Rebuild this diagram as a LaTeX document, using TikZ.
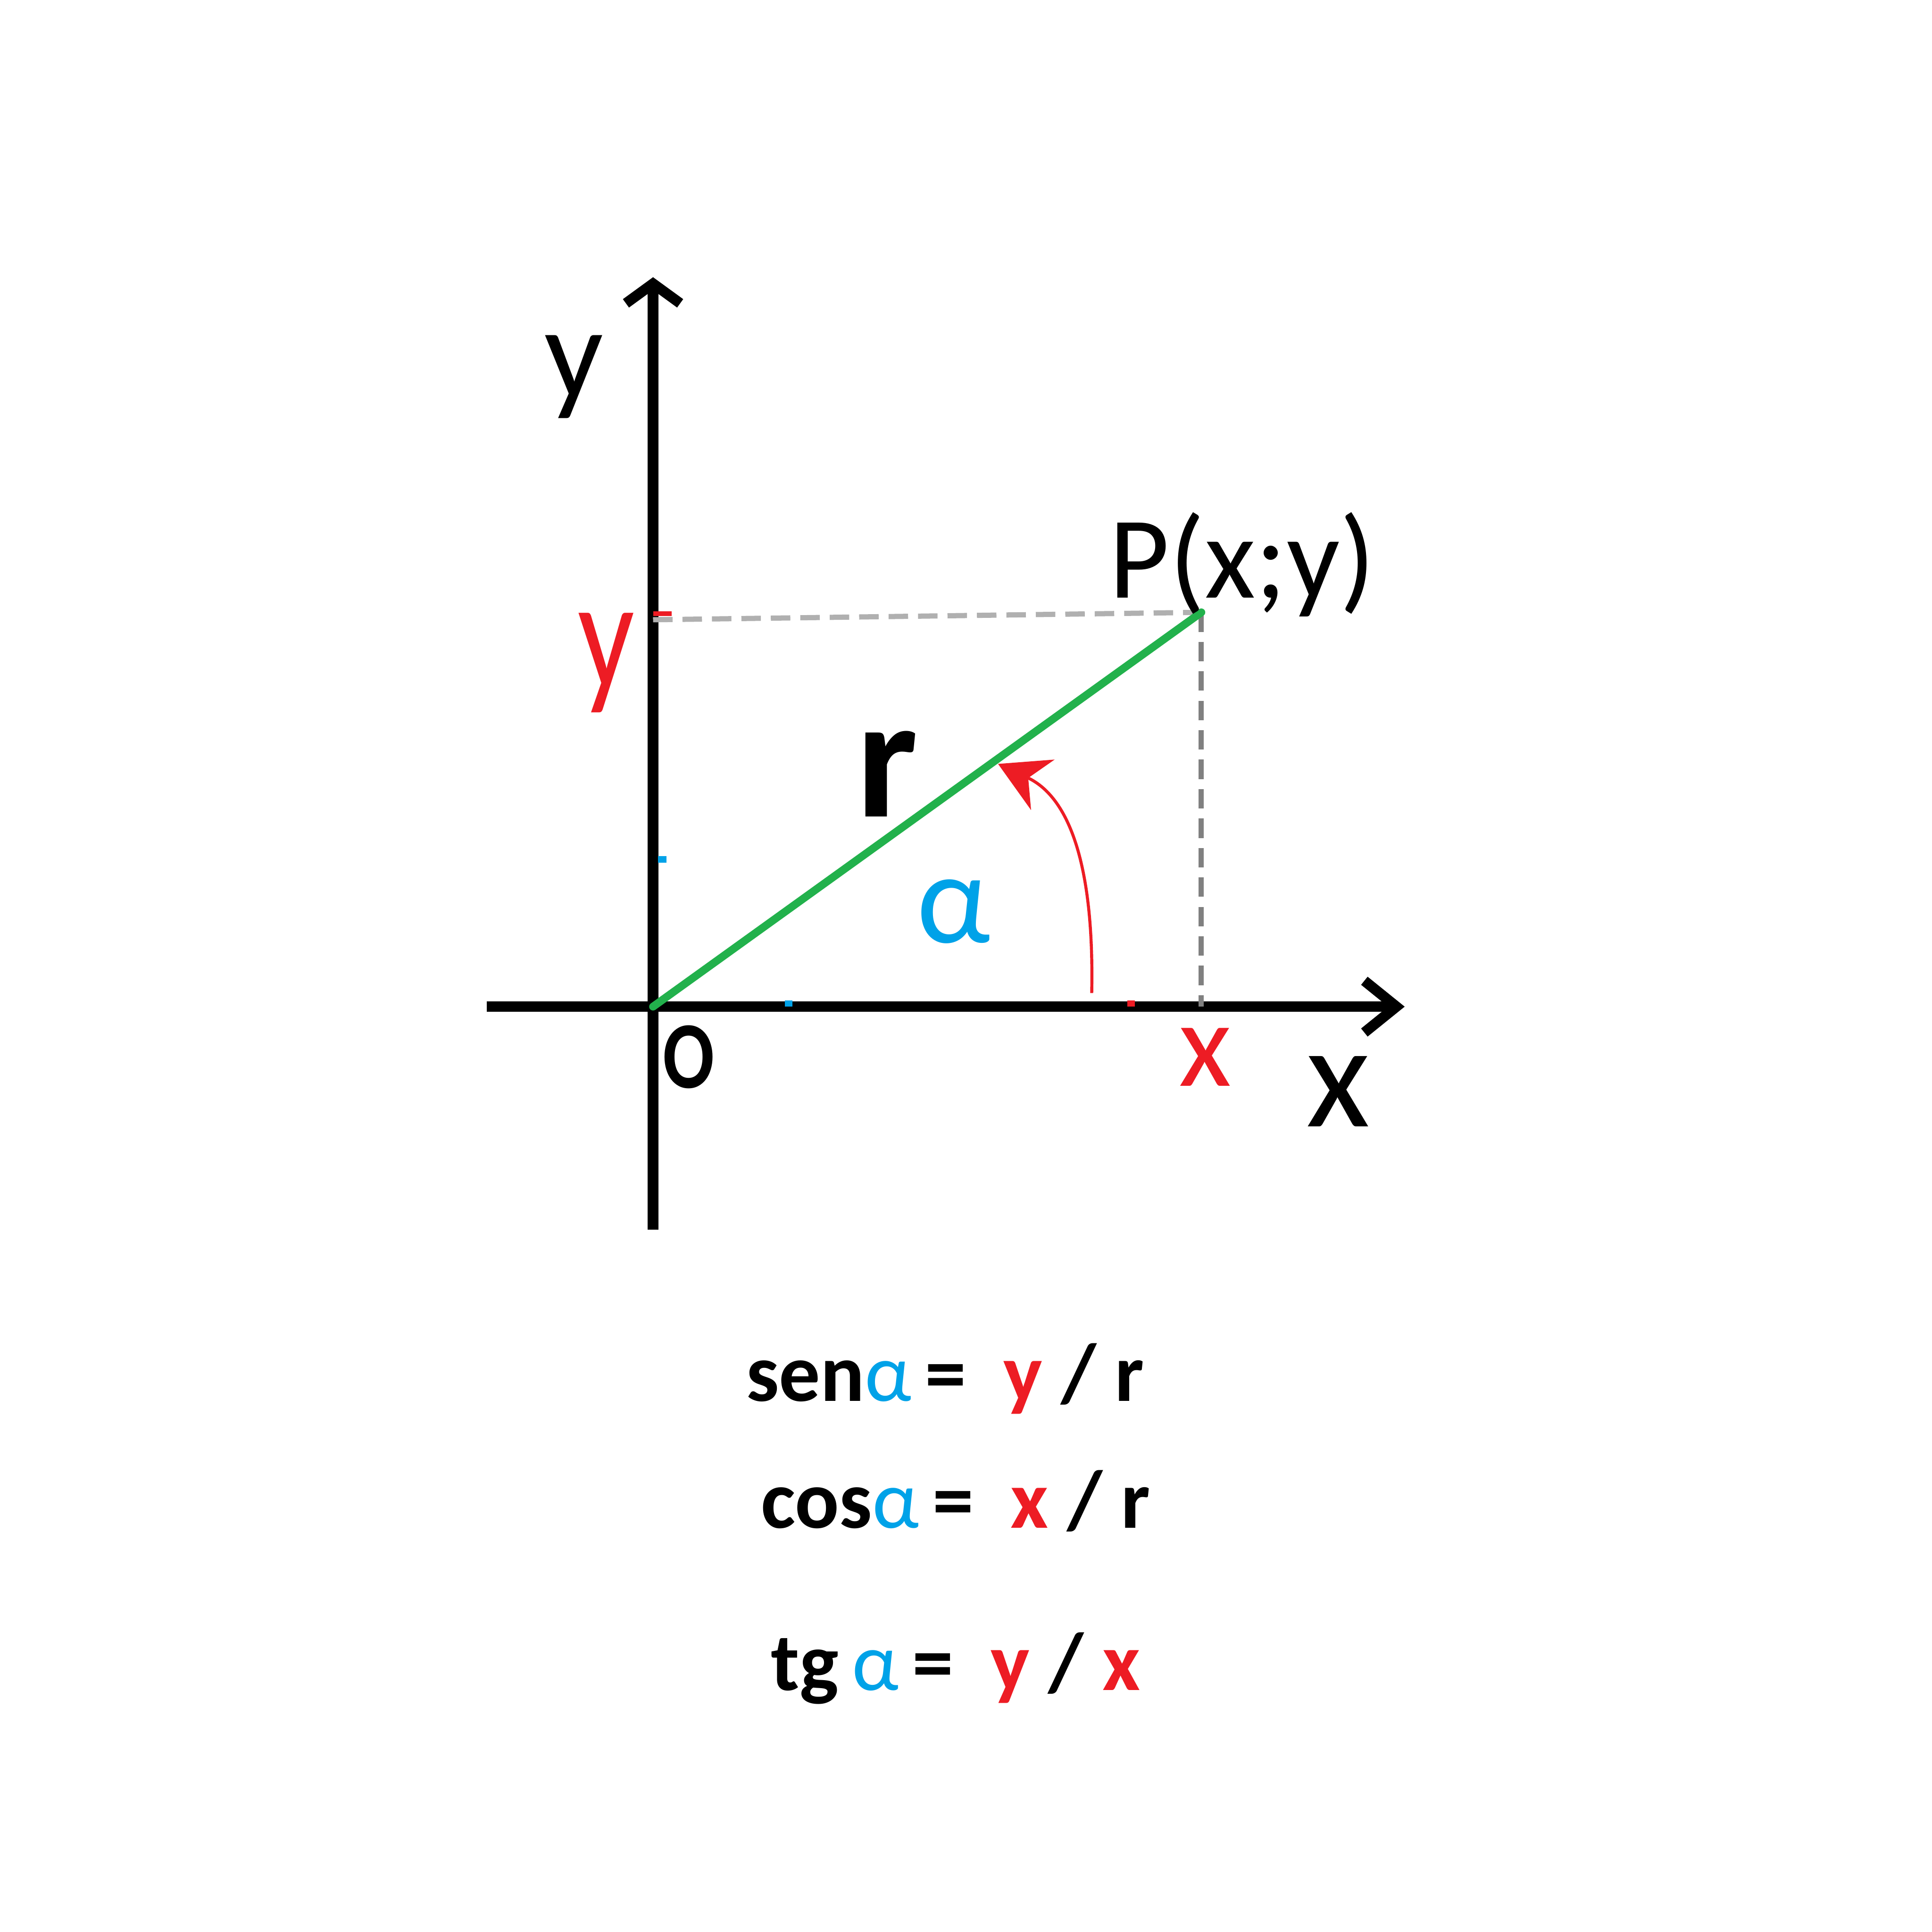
\documentclass[tikz,border=0pt]{standalone}
\usepackage{fontspec}
\setmainfont{Carlito}
\usetikzlibrary{arrows.meta}
\definecolor{paintred}{HTML}{ED1C24}
\definecolor{paintgreen}{HTML}{22B14C}
\definecolor{paintblue}{HTML}{00A2E8}
\definecolor{projlight}{HTML}{B0B0B0}
\definecolor{projdark}{HTML}{808080}
\tikzset{
  % the two axes
  axis/.style={line width=2.4pt, draw=black},
  % the segment from O to P
  radius/.style={line width=1.8pt, draw=paintgreen},
  % projections of P on the axes
  proj/.style={line width=1.2pt, dash pattern=on 4.5pt off 2.3pt},
  % the angle arrow
  angarrow/.style={-{Stealth[length=4mm,width=4.5mm]}, draw=paintred, line width=0.7pt},
  % hand written labels
  hand/.style={font=\fontsize{#1}{#1}\selectfont, inner sep=0pt},
  % the three ratios
  formula/.style={font=\fontsize{19pt}{23pt}\selectfont\bfseries, inner sep=0pt, anchor=base west},
  speck/.style={fill=#1, draw=none},
}

\begin{document}
\begin{tikzpicture}

  \path[fill=white] (0,0) rectangle (15.68,15.68);

  \coordinate (O) at (5.30,7.51);
  \coordinate (P) at (9.75,10.71);
  \coordinate (Py) at (5.30,10.65);
  \coordinate (Px) at (9.75,7.51);
  \coordinate (ytop) at (5.30,13.43);
  \coordinate (ybot) at (5.30,5.70);
  \coordinate (xleft) at (3.95,7.51);
  \coordinate (xright) at (11.40,7.51);
  \coordinate (angfrom) at (8.86,7.62);
  \coordinate (angto) at (8.10,9.48);

  % axes
  \draw[axis, -{Straight Barb[length=1.6mm,width=4.4mm]}] (ybot) -- (ytop);
  \draw[axis, -{Straight Barb[length=2.6mm,width=4.2mm]}] (xleft) -- (xright);

  % projections
  \draw[proj, draw=projlight] (Py) -- (P);
  \draw[proj, draw=projdark] (P) -- (Px);

  % radius
  \draw[radius, line cap=round] (O) -- (P);

  % angle
  \draw[angarrow] (angfrom) .. controls (8.88,8.60) and (8.70,9.20) .. (angto);

  % small marks
  \fill[speck=paintblue] (5.34,8.68) rectangle (5.41,8.73);
  \fill[speck=paintblue] (6.37,7.51) rectangle (6.43,7.56);
  \fill[speck=paintred] (9.15,7.51) rectangle (9.21,7.56);
  \fill[speck=paintred] (5.30,10.68) rectangle (5.45,10.72);

  % labels
  \node[hand=30pt] (ylab) at (4.66,12.62) {y};
  \node[hand=36pt, text=paintred, xscale=0.8] (yval) at (4.92,10.30) {y};
  \node[hand=27pt] (Plab) at (10.08,11.10) {P(x;y)};
  \node[hand=40pt] (rlab) at (7.20,9.40) {\bfseries r};
  \node[hand=30pt, text=paintblue] (alab) at (7.74,8.28) {α};
  \node[hand=22pt, xscale=0.8] (Olab) at (5.59,7.10) {\bfseries O};
  \node[hand=28pt, text=paintred] (xval) at (9.78,7.10) {x};
  \node[hand=34pt] (xlab) at (10.86,6.82) {x};

  % ratios
  \node[formula] (sen) at (6.05,4.31) {sen\textcolor{paintblue}{\mdseries α}\,= \ \textcolor{paintred}{y} / r};
  \node[formula] (cos) at (6.17,3.28) {cos\textcolor{paintblue}{\mdseries α}\,= \ \textcolor{paintred}{x} / r};
  \node[formula] (tg) at (6.25,1.96) {tg\,\textcolor{paintblue}{\mdseries α}\,= \ \textcolor{paintred}{y} / \textcolor{paintred}{x}};

\end{tikzpicture}
\end{document}
